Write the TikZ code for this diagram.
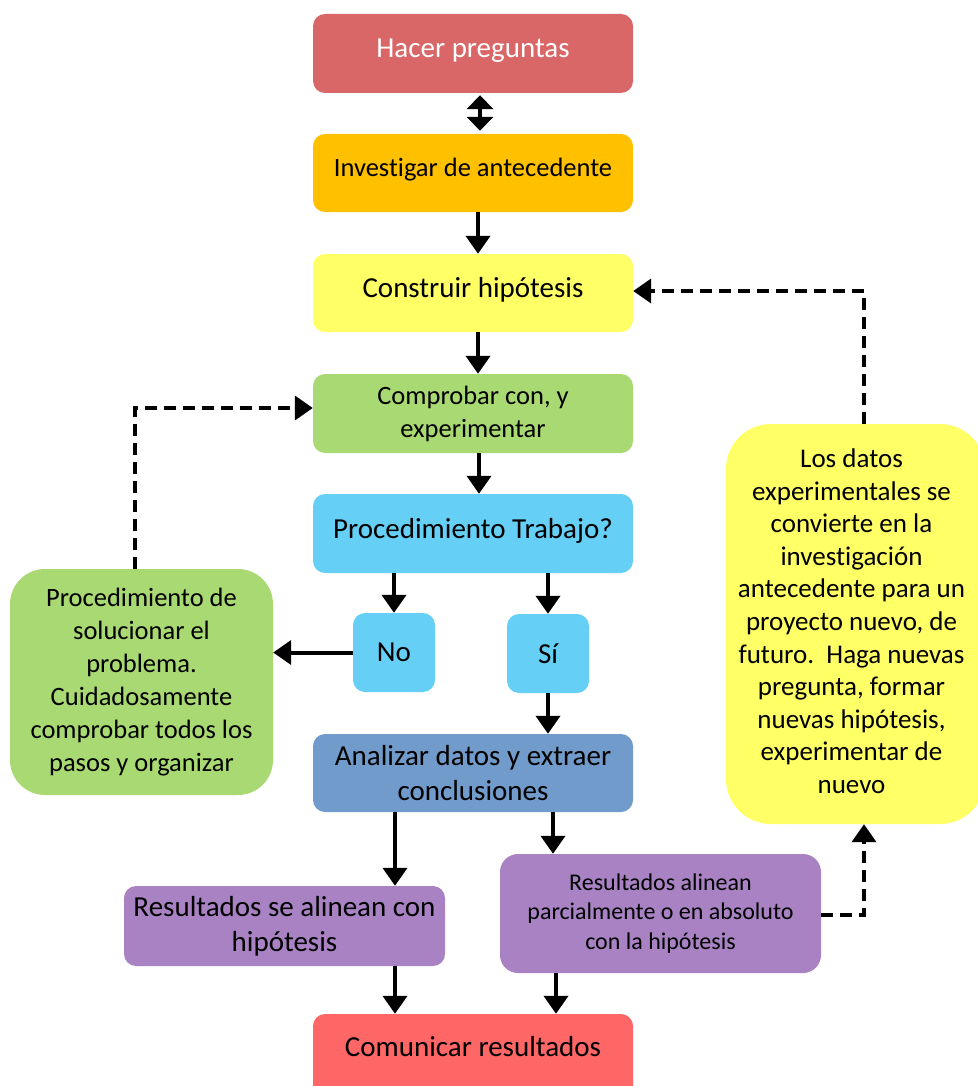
\documentclass[tikz,border=0pt]{standalone}
\usepackage{fontspec}
\setmainfont{Carlito}[Ligatures={NoCommon}]
\usetikzlibrary{arrows.meta}
\definecolor{hacC}{HTML}{D96767}
\definecolor{invC}{HTML}{FFC000}
\definecolor{yelC}{HTML}{FFFF66}
\definecolor{grnC}{HTML}{A9D972}
\definecolor{bluC}{HTML}{66CFF6}
\definecolor{anaC}{HTML}{719BCB}
\definecolor{purC}{HTML}{A982C4}
\definecolor{comC}{HTML}{FF6666}
\tikzset{
  box/.style={rounded corners=12pt, align=center, inner sep=0pt, minimum width=320pt},
  arr/.style={line width=4pt, -{Triangle[width=24pt,length=18pt]}},
  darr/.style={arr, dash pattern=on 12pt off 7pt},
}
\newcommand{\fsA}{\fontsize{29}{35}\selectfont}
\newcommand{\fsB}{\fontsize{26.5}{33}\selectfont}
\newcommand{\fsC}{\fontsize{27}{32.6}\selectfont}
\newcommand{\fsD}{\fontsize{24}{29.5}\selectfont}
\begin{document}
\begin{tikzpicture}[x=1pt,y=-1pt]
\useasboundingbox (0,0) rectangle (977,1086);
\node[box, fill=hacC, text=white, minimum height=79pt, font=\fsA, text height=19pt, text depth=11pt] (hac) at (473,53.5) {Hacer preguntas};
\node[box, fill=invC, minimum height=78pt, font=\fsB, text height=17.5pt, text depth=11pt] (inv) at (473,173) {Investigar de antecedente};
\node[box, fill=yelC, minimum height=78pt, font=\fsA, text height=19pt, text depth=10pt] (con) at (473,293) {Construir hipótesis};
\node[box, fill=grnC, minimum height=79pt, font=\fsB] (comp) at (473,413.5) {Comprobar con, y\\experimentar};
\node[box, fill=bluC, minimum height=79pt, font=\fsA, text height=19pt, text depth=10pt] (proc) at (473,533.5) {Procedimiento Trabajo?};
\node[box, fill=bluC, minimum width=82pt, minimum height=79pt, font=\fsA] (no) at (394,652.5) {No};
\node[box, fill=bluC, minimum width=82pt, minimum height=79pt, font=\fsA] (si) at (548,653.5) {Sí};
\node[box, rounded corners=35pt, fill=grnC, minimum width=263pt, minimum height=226pt, font=\fsB] (lb) at (141.5,682) {Procedimiento de\\solucionar el\\problema.\\Cuidadosamente\\comprobar todos los\\pasos y organizar};
\node[box, fill=anaC, minimum height=78pt, font=\fsA] (ana) at (473,773) {Analizar datos y extraer\\conclusiones};
\node[box, fill=purC, minimum width=321pt, minimum height=80pt, font=\fsA] (res1) at (284.5,926) {Resultados se alinean con\\hipótesis};
\node[box, rounded corners=18pt, fill=purC, minimum width=321pt, minimum height=119pt, font=\fsD] (res2) at (660.5,913.5) {Resultados alinean\\parcialmente o en absoluto\\con la hipótesis};
\node[box, fill=comC, minimum height=86pt, font=\fsA, text height=19pt, text depth=21pt] (com) at (473,1057) {Comunicar resultados};
\node[box, rounded corners=45pt, fill=yelC, minimum width=259pt, minimum height=400pt, font=\fsC] (rb) at (855.5,624) {\hspace*{-8pt}\begin{tabular}{@{}c@{}}Los datos\\experimentales se\\convierte en la\\investigación\\antecedente para un\\proyecto nuevo, de\\futuro.\ \ Haga nuevas\\pregunta, formar\\nuevas hipótesis,\\experimentar de\\nuevo\end{tabular}};
% connectors
\draw[line width=4pt, {Triangle[width=26pt,length=14pt]}-{Triangle[width=26pt,length=14pt]}, shorten <=2pt, shorten >=3pt] ([xshift=7pt]hac.south) -- ([xshift=7pt]inv.north);
\draw[arr] ([xshift=5pt]inv.south) -- ([xshift=5pt]con.north);
\draw[arr] ([xshift=5pt]con.south) -- ([xshift=5pt]comp.north);
\draw[arr] ([xshift=6pt]comp.south) -- ([xshift=6pt]proc.north);
\draw[arr] (proc.south -| no) -- (no.north);
\draw[arr] (proc.south -| si) -- (si.north);
\draw[arr] (no.west) -- (no.west -| lb.east);
\draw[arr] (si.south) -- (si.south |- ana.north);
\draw[arr] ([xshift=-78pt]ana.south) -- ([xshift=-78pt]ana.south |- res1.north);
\draw[arr] ([xshift=80pt]ana.south) -- ([xshift=80pt]ana.south |- res2.north);
\draw[arr] ([xshift=110.5pt]res1.south) -- ([xshift=110.5pt]res1.south |- com.north);
\draw[arr] ([xshift=-104.5pt]res2.south) -- ([xshift=-104.5pt]res2.south |- com.north);
\draw[darr] ([xshift=-6.5pt]lb.north) |- ([yshift=5.5pt]comp.west);
\draw[darr] ([xshift=8.5pt]rb.north) |- ([yshift=2pt]con.east);
\draw[darr] ([yshift=-1.5pt]res2.east) -| ([xshift=8.5pt]rb.south);
\end{tikzpicture}
\end{document}
